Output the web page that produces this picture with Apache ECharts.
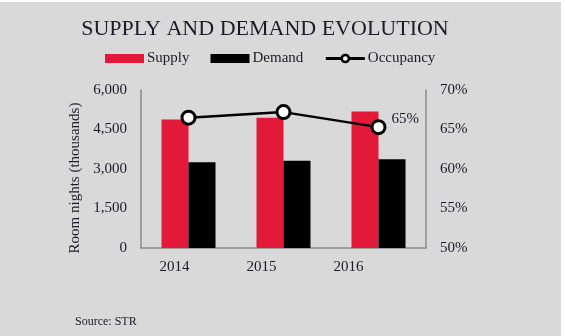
<!DOCTYPE html>
<html>
<head>
<meta charset="utf-8">
<script src="https://cdn.jsdelivr.net/npm/echarts@6/dist/echarts.min.js"></script>
<style>
  html, body { margin: 0; padding: 0; background: #ffffff; }
  #chart { position: absolute; left: 0; top: 2px; width: 561px; height: 334px; background: #d9d9d9; }
</style>
</head>
<body>
<div id="chart"></div>
<script>
// Hotel room-night supply vs demand (thousands) and occupancy rate
const years = ['2014', '2015', '2016'];
const supply = [4880, 4950, 5180];
const demand = [3255, 3315, 3370];
const occupancy = [66.5, 67.2, 65.3];
const leftTicks = [0, 1500, 3000, 4500, 6000];
const rightTicks = [50, 55, 60, 65, 70];

const serif = '"Liberation Serif", "DejaVu Serif", serif';
const textColor = '#1b1b2b';
const axisGray = '#8a8a8a';

const chart = echarts.init(document.getElementById('chart'), null, { renderer: 'canvas' });

chart.setOption({
  backgroundColor: '#d9d9d9',
  animation: false,
  title: [{
    text: 'SUPPLY AND DEMAND EVOLUTION',
    left: 260, top: 11, textAlign: 'center',
    textStyle: { fontFamily: serif, fontSize: 22, fontWeight: 'normal', color: textColor }
  }, {
    text: 'Source: STR',
    left: 70, top: 309,
    textStyle: { fontFamily: serif, fontSize: 12, fontWeight: 'normal', color: textColor }
  }],
  legend: {
    top: 44, left: 100,
    itemGap: 21,
    itemWidth: 39, itemHeight: 9,
    textStyle: { fontFamily: serif, fontSize: 15, color: textColor, padding: [0, 0, 0, -2] },
    data: [
      { name: 'Supply', icon: 'rect' },
      { name: 'Demand', icon: 'rect' },
      {
        name: 'Occupancy',
        lineStyle: { width: 3, color: '#000000' },
        itemStyle: { color: '#ffffff', borderColor: '#000000', borderWidth: 2.5 }
      }
    ]
  },
  grid: [
    { left: 141, right: 135, top: 88, bottom: 88 },
    { left: 131, right: 169, top: 88, bottom: 88 }
  ],
  xAxis: [{
    type: 'category', gridIndex: 0, data: years,
    axisLine: { show: true, lineStyle: { color: axisGray, width: 1.5 } },
    axisTick: { show: false },
    axisLabel: { show: false }
  }, {
    type: 'category', gridIndex: 1, data: years,
    axisLine: { show: false }, axisTick: { show: false },
    axisLabel: { fontFamily: serif, fontSize: 15, color: textColor, margin: 12 }
  }],
  yAxis: [{
    type: 'value', gridIndex: 0, min: leftTicks[0], max: leftTicks[leftTicks.length - 1], interval: 1500,
    name: 'Room nights (thousands)', nameLocation: 'middle', nameGap: 53, nameRotate: 90,
    nameTextStyle: { fontFamily: serif, fontSize: 15, color: textColor, padding: [0, 0, 0, -18] },
    axisLine: { show: true, lineStyle: { color: axisGray, width: 1.5 } },
    axisTick: { show: false },
    splitLine: { show: false },
    axisLabel: {
      fontFamily: serif, fontSize: 15, color: textColor, margin: 14,
      formatter: v => v.toLocaleString('en-US')
    }
  }, {
    type: 'value', gridIndex: 0, position: 'right',
    min: rightTicks[0], max: rightTicks[rightTicks.length - 1], interval: 5,
    axisLine: { show: true, lineStyle: { color: axisGray, width: 1.5 } },
    axisTick: { show: false },
    splitLine: { show: false },
    axisLabel: { fontFamily: serif, fontSize: 15, color: textColor, margin: 14, formatter: v => v + '%' }
  }, {
    type: 'value', gridIndex: 1, show: false
  }],
  series: [{
    name: 'Supply', type: 'bar', xAxisIndex: 0, yAxisIndex: 0,
    data: supply, barWidth: 27, barGap: '0%',
    itemStyle: { color: '#e3193a' }
  }, {
    name: 'Demand', type: 'bar', xAxisIndex: 0, yAxisIndex: 0,
    data: demand, barWidth: 27,
    itemStyle: { color: '#000000' }
  }, {
    name: 'Occupancy', type: 'line', xAxisIndex: 0, yAxisIndex: 1,
    data: occupancy,
    symbol: 'circle', symbolSize: 13,
    lineStyle: { color: '#000000', width: 2.5 },
    itemStyle: { color: '#ffffff', borderColor: '#000000', borderWidth: 3 },
    label: {
      show: true, position: [21, -8], fontFamily: serif, fontSize: 15, color: textColor,
      formatter: p => p.dataIndex === occupancy.length - 1 ? Math.round(p.value) + '%' : ''
    }
  }]
});
</script>
</body>
</html>
